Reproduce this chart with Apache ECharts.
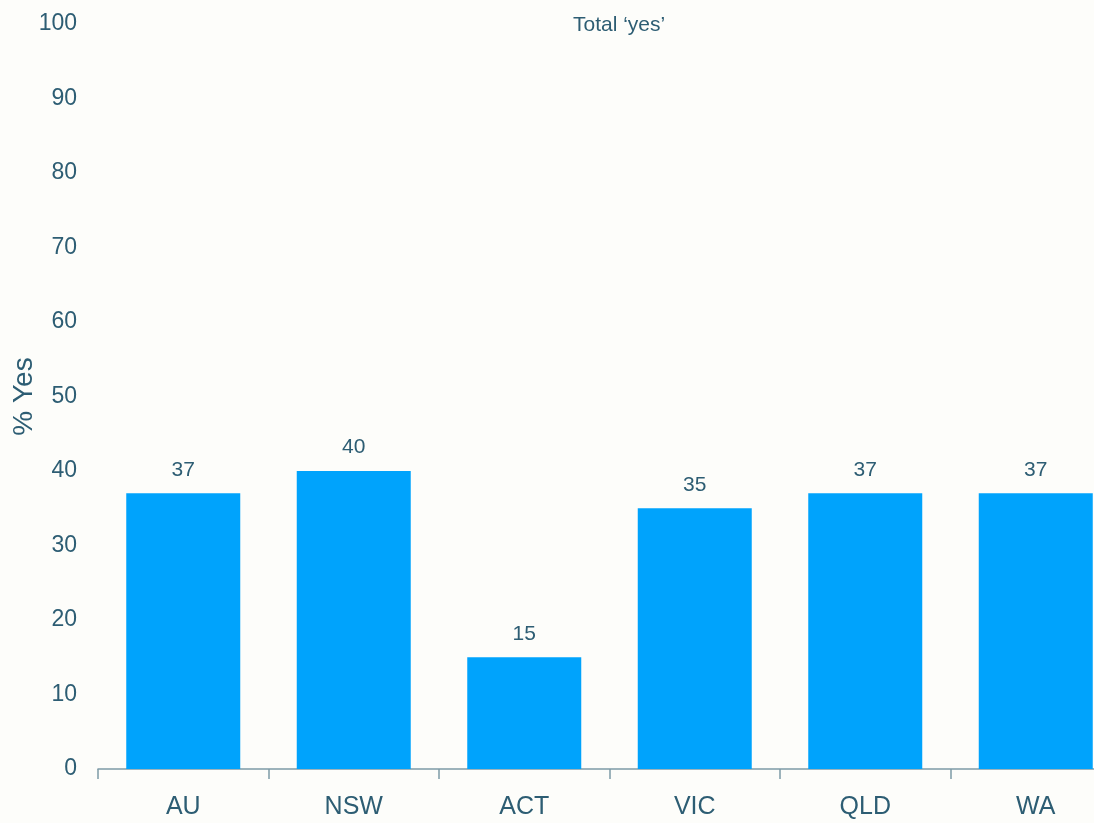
<!DOCTYPE html>
<html>
<head>
<meta charset="utf-8">
<title>Total 'yes'</title>
<script src="https://cdn.jsdelivr.net/npm/echarts@6/dist/echarts.min.js"></script>
<style>
  html, body { margin: 0; padding: 0; background: #fdfdfa; }
  #chart { width: 1094px; height: 823px; }
</style>
</head>
<body>
<div id="chart"></div>
<script>
// Share answering 'yes', by state
const categories = ['AU', 'NSW', 'ACT', 'VIC', 'QLD', 'WA'];
const yesValues = [37, 40, 15, 35, 37, 37];
const yTicks = [0, 10, 20, 30, 40, 50, 60, 70, 80, 90, 100];

const textColor = '#2d5d73';
const sans = '"Liberation Sans", Arial, Helvetica, sans-serif';

const chart = echarts.init(document.getElementById('chart'), null, { renderer: 'canvas' });

chart.setOption({
  backgroundColor: '#fdfdfa',
  animation: false,
  title: {
    text: "Total \u2018yes\u2019",
    left: 568,
    top: 10,
    textStyle: { color: textColor, fontFamily: sans, fontSize: 21, fontWeight: 'normal' }
  },
  grid: {
    left: 98,
    top: 24,
    width: 1023,
    height: 745,
    containLabel: false,
    outerBoundsMode: 'none'
  },
  xAxis: {
    type: 'category',
    data: categories,
    axisLine: { show: true, lineStyle: { color: '#7e9aa7', width: 1.5 } },
    axisTick: { show: true, length: 10, lineStyle: { color: '#7e9aa7', width: 1.5 } },
    axisLabel: { color: textColor, fontFamily: sans, fontSize: 25, margin: 26 }
  },
  yAxis: {
    type: 'value',
    min: yTicks[0],
    max: yTicks[yTicks.length - 1],
    interval: yTicks[1] - yTicks[0],
    name: '% Yes',
    nameLocation: 'middle',
    nameMoveOverlap: false,
    nameGap: 60,
    nameRotate: 90,
    nameTextStyle: { color: textColor, fontFamily: sans, fontSize: 28 },
    axisLine: { show: false },
    axisTick: { show: false },
    splitLine: { show: false },
    axisLabel: { color: textColor, fontFamily: sans, fontSize: 23, margin: 21 }
  },
  series: [{
    type: 'bar',
    data: yesValues,
    barWidth: 114,
    itemStyle: { color: '#00a3fc' },
    label: {
      show: true,
      position: 'top',
      distance: 13,
      color: textColor,
      fontFamily: sans,
      fontSize: 21
    }
  }]
});
</script>
</body>
</html>
